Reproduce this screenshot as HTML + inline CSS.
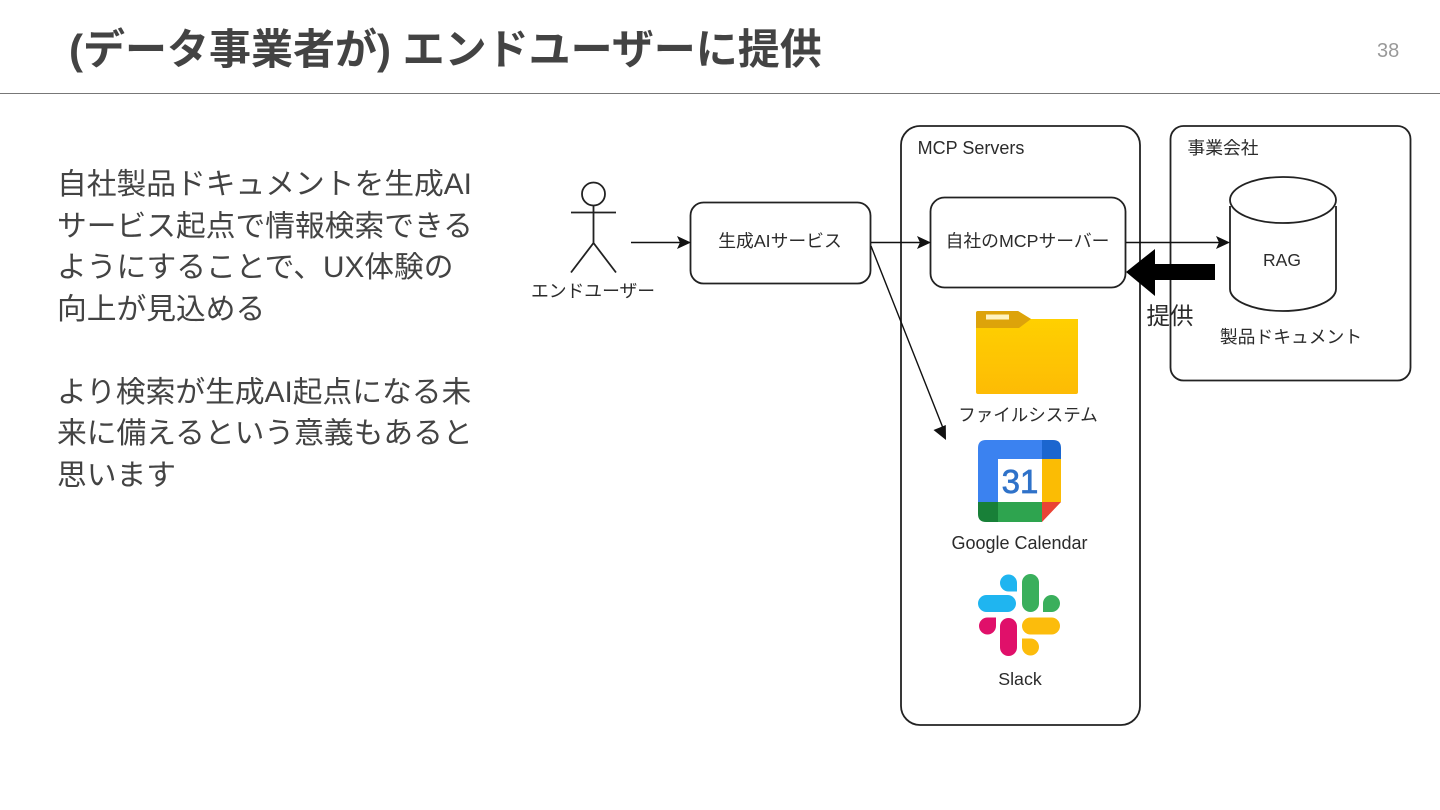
<!DOCTYPE html>
<html><head><meta charset="utf-8">
<style>
html,body{margin:0;padding:0;background:#fff;}
#p{position:relative;width:1440px;height:810px;overflow:hidden;background:#fff;font-family:"Liberation Sans","Noto Sans CJK JP",sans-serif;}
.t{position:absolute;white-space:nowrap;font-family:"Liberation Sans","Noto Sans CJK JP",sans-serif;color:#434343;}
svg{position:absolute;left:0;top:0;filter:blur(0.3px);}
svg text{font-family:"Liberation Sans","Noto Sans CJK JP",sans-serif;fill:#2b2b2b;}
</style></head><body><div id="p">
<div class="t" style="left:69px;top:19px;font-size:42px;line-height:62px;font-weight:700;">(データ事業者が) エンドユーザーに提供</div>
<div class="t" style="left:1377px;top:37px;font-size:20px;line-height:28px;color:#999;">38</div>
<div style="position:absolute;left:0;top:93px;width:1440px;height:1px;background:#777;"></div>
<div class="t" style="left:57px;top:164px;font-size:29.750px;line-height:41.500px;">自社製品ドキュメントを生成AI<br>サービス起点で情報検索できる<br>ようにすることで、UX体験の<br>向上が見込める<br><br>より検索が生成AI起点になる未<br>来に備えるという意義もあると<br>思います</div>
<svg width="1440" height="810" viewBox="0 0 1440 810">
<g fill="none" stroke="#222" stroke-width="1.800">
<rect x="901" y="126" width="239" height="599" rx="19"/>
<rect x="1170.500" y="126" width="240" height="254.500" rx="13"/>
<rect x="690.500" y="202.500" width="180" height="81" rx="13"/>
<rect x="930.500" y="197.500" width="195" height="90" rx="14"/>
<circle cx="593.500" cy="194" r="11.500"/>
<path d="M571 212.500H616M593.500 205.500V243M571 272.500L593.500 243L616 272.500"/>
<path d="M1230 206V289C1230 301 1254 311 1283 311S1336 301 1336 289V206"/>
<ellipse cx="1283" cy="200" rx="53" ry="23" fill="#fff"/>
</g>
<g fill="none" stroke="#111" stroke-width="1.400">
<path d="M631 242.500H682M871 242.500H923M1126 242.500H1222M871 246L943 428"/>
</g>
<g fill="#111">
<path d="M691 242.500L677 236L680 242.500L677 249Z"/>
<path d="M931 242.500L917 236L920 242.500L917 249Z"/>
<path d="M1230 242.500L1216 236L1219 242.500L1216 249Z"/>
<path d="M946 440L933.500 430L939.800 427.500L945.800 425Z"/>
</g>
<path d="M1126 272L1155 249V264H1215V280H1155V296Z" fill="#000"/>
<g text-anchor="middle">
<text x="593" y="297" font-size="17.800">エンドユーザー</text>
<text x="780" y="247" font-size="17.800">生成AIサービス</text>
<text x="1027.500" y="247" font-size="17.800">自社のMCPサーバー</text>
<text x="971" y="154" font-size="18">MCP Servers</text>
<text x="1223" y="154" font-size="17.800">事業会社</text>
<text x="1282" y="266" font-size="17.500">RAG</text>
<text x="1291" y="343" font-size="17.800">製品ドキュメント</text>
<text x="1170" y="324" font-size="23.500">提供</text>
<text x="1028" y="421" font-size="17.500" >ファイルシステム</text>
<text x="1019.500" y="549" font-size="18">Google Calendar</text>
<text x="1020" y="685" font-size="17.800">Slack</text>
</g>
<defs><linearGradient id="f" x1="0" y1="0" x2="0" y2="1"><stop offset="0" stop-color="#ffd200"/><stop offset="1" stop-color="#fdbb05"/></linearGradient></defs>
<path d="M978 311H1018L1031 319H1078V392Q1078 394 1076 394H978Q976 394 976 392V313Q976 311 978 311Z" fill="url(#f)"/>
<path d="M978 311H1018L1031 319L1019 328H976V313Q976 311 978 311Z" fill="#dda30a"/>
<rect x="986" y="314.500" width="23" height="5" fill="#fff3c0"/>
<!-- calendar -->
<path d="M986 440H1042V460H998V502H978V448Q978 440 986 440Z" fill="#3b82f0"/>
<path d="M1042 440H1053Q1061 440 1061 448V460H1042Z" fill="#1b66cf"/>
<rect x="1042" y="459" width="19" height="43" fill="#fbbc04"/>
<rect x="998" y="459" width="44" height="43" fill="#fff"/>
<path d="M998 502H1042V522H998Z" fill="#2ea44f"/>
<path d="M978 502H998V522H986Q978 522 978 514Z" fill="#188038"/>
<path d="M1042 502H1061L1042 522Z" fill="#ea4335"/>
<text x="1020" y="493" text-anchor="middle" font-size="33" style="fill:#2f72c9;stroke:#2f72c9;stroke-width:0.700">31</text>
<!-- slack -->
<g fill="#1fb5f0"><rect x="978" y="595" width="38" height="17" rx="8.500"/><path d="M1017 591.500V583A8.500 8.500 0 1 0 1008.500 591.500Z"/></g>
<g fill="#3aaf5c"><rect x="1022" y="574" width="17" height="38" rx="8.500"/><path d="M1043 612V603.500A8.500 8.500 0 1 1 1051.500 612Z"/></g>
<g fill="#e0106a"><rect x="1000" y="618" width="17" height="38" rx="8.500"/><path d="M996 617.500V626A8.500 8.500 0 1 1 987.500 617.500Z"/></g>
<g fill="#fcbc0c"><rect x="1022" y="617.500" width="38" height="17" rx="8.500"/><path d="M1022 638.500H1030.500A8.500 8.500 0 1 1 1022 647Z"/></g>
</svg>
</div></body></html>
